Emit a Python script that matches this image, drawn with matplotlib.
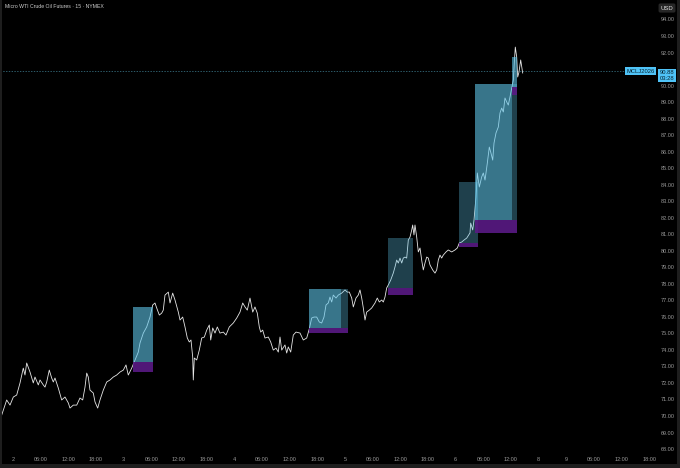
"""
Micro WTI crude, 15 min, dark chart with supply/demand style boxes
"""
import matplotlib
matplotlib.use("Agg")
import matplotlib.pyplot as plt
from matplotlib.patches import Rectangle
from matplotlib.transforms import blended_transform_factory

plt.rcParams['font.family'] = ['Liberation Sans', 'DejaVu Sans']

# trading hours since day "2" 00:00 (weekend gap compressed)
hours = [-2.45, -1.37, -0.65, 0.07, 0.80, 1.52, 2.23, 2.60, 2.97, 3.69,
         4.40, 4.77, 5.49, 5.86, 6.57, 6.94, 7.31, 7.87, 8.39, 8.74,
         9.11, 9.83, 10.56, 11.28, 12.00, 12.36, 13.08, 13.82, 14.53, 15.12,
         15.62, 15.99, 16.33, 16.70, 17.42, 17.79, 18.37, 18.87, 19.59, 20.33,
         21.04, 21.76, 22.49, 23.21, 23.93, 24.51, 25.01, 25.75, 26.46, 27.18,
         27.55, 28.27, 29.00, 29.72, 30.30, 30.80, 31.17, 31.74, 32.26, 32.60,
         32.97, 33.69, 34.06, 34.64, 35.14, 35.86, 36.23, 36.81, 37.31, 37.81,
         38.24, 38.61, 38.98, 39.11, 39.33, 39.85, 40.41, 40.93, 41.50, 42.02,
         42.58, 42.89, 43.32, 43.82, 44.32, 44.90, 45.62, 46.20, 46.92, 47.79,
         48.53, 49.24, 49.83, 50.33, 50.82, 51.41, 52.00, 52.49, 52.99, 53.43,
         53.73, 54.16, 54.66, 55.38, 55.90, 56.46, 57.05, 57.55, 57.92, 58.29,
         59.00, 59.37, 59.72, 60.24, 60.80, 61.39, 62.26, 62.97, 63.71, 64.27,
         64.79, 65.29, 65.88, 66.44, 66.96, 67.46, 67.90, 68.39, 68.76, 69.13,
         69.48, 70.07, 70.56, 71.30, 72.02, 72.52, 72.95, 73.47, 73.82, 74.40,
         74.90, 75.27, 75.64, 75.99, 76.36, 76.72, 77.29, 77.81, 78.52, 79.02,
         79.46, 79.98, 80.33, 80.69, 81.06, 81.41, 81.93, 82.49, 82.86, 83.23,
         83.58, 83.95, 84.32, 84.66, 85.03, 85.40, 85.75, 86.12, 86.49, 86.70,
         86.98, 87.20, 87.57, 87.92, 88.29, 88.65, 89.00, 89.37, 89.74, 90.09,
         90.46, 91.04, 91.54, 91.91, 92.26, 92.62, 92.99, 93.34, 93.93, 94.42,
         95.16, 95.88, 96.38, 96.81, 97.33, 97.83, 98.42, 99.13, 99.28, 99.72,
         100.00, 100.43, 100.72, 101.15, 101.67, 102.02, 102.39, 102.89, 103.32, 103.62,
         104.06, 104.34, 104.77, 105.27, 105.64, 106.01, 106.36, 106.72, 107.09, 107.44,
         107.81, 108.18, 108.53, 108.74, 108.96, 109.26, 109.48, 109.76, 110.13, 110.56]

prices = [70.06, 70.97, 70.66, 71.15, 71.27, 72.00, 72.90, 72.48, 73.21, 72.66,
          72.00, 72.36, 71.88, 72.18, 71.88, 71.75, 72.06, 72.78, 72.30, 72.06,
          72.30, 71.69, 70.97, 71.15, 70.79, 70.48, 70.66, 70.66, 71.09, 70.97,
          71.75, 72.60, 72.36, 71.57, 71.39, 70.85, 70.48, 70.97, 71.57, 72.06,
          72.18, 72.36, 72.48, 72.66, 72.78, 73.09, 72.48, 72.90, 73.39, 73.87,
          74.42, 75.02, 75.39, 75.99, 76.72, 76.84, 76.54, 76.11, 76.23, 76.41,
          77.32, 77.50, 76.84, 77.44, 77.02, 76.29, 75.81, 75.99, 75.39, 74.72,
          74.48, 74.60, 73.57, 72.18, 73.51, 73.39, 73.99, 74.72, 74.78, 75.20,
          75.51, 74.60, 75.33, 75.02, 75.39, 75.02, 75.08, 74.90, 75.39, 75.63,
          75.93, 76.29, 76.84, 76.60, 76.41, 77.14, 76.29, 76.60, 76.23, 75.39,
          75.08, 75.20, 74.72, 74.78, 74.48, 73.99, 74.11, 73.87, 74.78, 73.99,
          74.30, 73.81, 74.18, 73.87, 74.90, 75.08, 75.02, 74.60, 74.72, 75.27,
          75.93, 75.99, 75.99, 75.69, 75.63, 75.99, 76.72, 76.84, 77.20, 76.90,
          77.32, 77.14, 77.32, 77.44, 77.63, 77.50, 77.50, 77.14, 76.60, 77.14,
          77.32, 77.63, 77.14, 76.54, 75.81, 76.29, 76.41, 76.54, 76.84, 77.14,
          76.90, 77.02, 76.90, 77.20, 77.75, 77.93, 78.23, 78.65, 79.02, 79.44,
          79.26, 79.56, 79.26, 79.56, 79.62, 79.56, 80.65, 80.83, 81.26, 81.56,
          80.96, 81.56, 80.83, 79.93, 80.17, 79.44, 78.84, 79.26, 79.62, 79.56,
          79.14, 78.84, 78.65, 78.84, 79.44, 79.74, 79.56, 79.74, 79.93, 80.05,
          79.93, 80.05, 80.17, 80.47, 80.53, 80.65, 80.77, 81.08, 81.68, 81.26,
          81.86, 83.26, 84.71, 83.86, 84.47, 84.71, 84.28, 85.31, 86.28, 85.98,
          85.49, 86.52, 87.13, 87.49, 88.34, 88.64, 88.40, 89.25, 89.01, 88.82,
          89.31, 89.85, 90.34, 91.37, 92.33, 91.73, 90.52, 90.82, 91.55, 90.76]

last_price = 90.88

# zones: start, end of light part, end, zone top, zone base, bottom of purple base
zone_start = [26.10, 64.27, 81.28, 96.81, 100.22, 108.18]
zone_light_end = [30.43, 71.15, 81.28, 96.81, 108.18, 109.22]
zone_end = [30.43, 72.60, 86.83, 100.76, 109.26, 109.22]
zone_top = [76.61, 77.67, 80.76, 84.18, 90.08, 91.73]
zone_base = [73.27, 75.32, 77.73, 80.45, 81.86, 89.94]
zone_bottom = [72.66, 75.02, 77.32, 80.23, 81.06, 89.43]

xtick_pos = [0, 6, 12, 18, 24, 30, 36, 42, 48, 54, 60, 66, 72, 78, 84, 90,
             96, 102, 108, 114, 120, 126, 132, 138]
xtick_labels = ["2", "06:00", "12:00", "18:00", "3", "06:00", "12:00", "18:00",
                "4", "06:00", "12:00", "18:00", "5", "06:00", "12:00", "18:00",
                "6", "06:00", "12:00", "8", "9", "06:00", "12:00", "18:00"]
# 91.00 sits under the last price tag, so it is not shown
ytick_pos = [v for v in range(68, 95) if v != 91]

BG = "#000000"
TEAL = "#5fc4e8"
PURPLE = "#5a1a85"
LABEL_GREY = "#9a9a9a"

fig = plt.figure(figsize=(6.8, 4.68), dpi=100, facecolor=BG)
ax = fig.add_axes([0, 13 / 468, 656 / 680, 455 / 468], facecolor=BG)

ax.plot(hours, prices, color="#e6e6e6", lw=0.6, zorder=2)

# boxes over the line so the line picks up the tint
for i in range(len(zone_start)):
    if zone_light_end[i] > zone_start[i]:
        ax.add_patch(Rectangle((zone_start[i], zone_base[i]),
                               zone_light_end[i] - zone_start[i],
                               zone_top[i] - zone_base[i],
                               facecolor=TEAL, alpha=0.6, lw=0, zorder=3))
    if zone_end[i] > zone_light_end[i]:
        ax.add_patch(Rectangle((zone_light_end[i], zone_base[i]),
                               zone_end[i] - zone_light_end[i],
                               zone_top[i] - zone_base[i],
                               facecolor=TEAL, alpha=0.33, lw=0, zorder=3))
    ax.add_patch(Rectangle((zone_start[i], zone_bottom[i]),
                           zone_end[i] - zone_start[i],
                           zone_base[i] - zone_bottom[i],
                           facecolor=PURPLE, alpha=0.9, lw=0, zorder=3))

ax.axhline(last_price, color="#3f7f93", lw=0.5, ls=(0, (2, 2)), zorder=1)

ax.set_xlim(-2.82, 139.48)
ax.set_ylim(67.64, 95.18)

ax.set_xticks(xtick_pos)
ax.set_xticklabels(xtick_labels)
ax.set_yticks(ytick_pos)
ax.set_yticklabels([f"{v:.2f}" for v in ytick_pos])
ax.yaxis.tick_right()
ax.tick_params(axis="both", length=0, labelsize=4.0, labelcolor=LABEL_GREY)
ax.tick_params(axis="x", pad=1.5)
ax.tick_params(axis="y", pad=3.5)
for s in ax.spines.values():
    s.set_visible(False)

# last price tags
trans = blended_transform_factory(ax.transAxes, ax.transData)
ax.text(0.998, last_price, "MCLJ2026", transform=trans, ha="right",
        va="center", fontsize=4.2, color="#062430", zorder=6,
        bbox=dict(boxstyle="square,pad=0.25", fc="#4fc3f7", ec="none"))
ax.text(1.006, last_price - 0.27, "90.88\n03:28", transform=trans,
        ha="left", va="center", fontsize=4.2, color="#062430", zorder=6,
        linespacing=1.1, clip_on=False,
        bbox=dict(boxstyle="square,pad=0.3", fc="#4fc3f7", ec="none"))

fig.text(5 / 680, 1 - 7 / 468, "Micro WTI Crude Oil Futures · 15 · NYMEX",
         fontsize=3.7, color="#cfcfcf", ha="left", va="center")
fig.text(667 / 680, 1 - 8 / 468, "USD", fontsize=4.3, color="#e0e0e0",
         ha="center", va="center",
         bbox=dict(boxstyle="round,pad=0.35,rounding_size=0.3", fc="#262626", ec="none"))

# thin frame on the left, right and bottom
fig.patches.append(Rectangle((0, 0), 1.5 / 680, 1, transform=fig.transFigure,
                             facecolor="#1e1e1e", lw=0, zorder=0))
fig.patches.append(Rectangle((677 / 680, 0), 3 / 680, 1, transform=fig.transFigure,
                             facecolor="#1e1e1e", lw=0, zorder=0))
fig.patches.append(Rectangle((0, 0), 1, 4 / 468, transform=fig.transFigure,
                             facecolor="#1e1e1e", lw=0, zorder=0))

fig.savefig("out.png", dpi=100, facecolor=BG)
